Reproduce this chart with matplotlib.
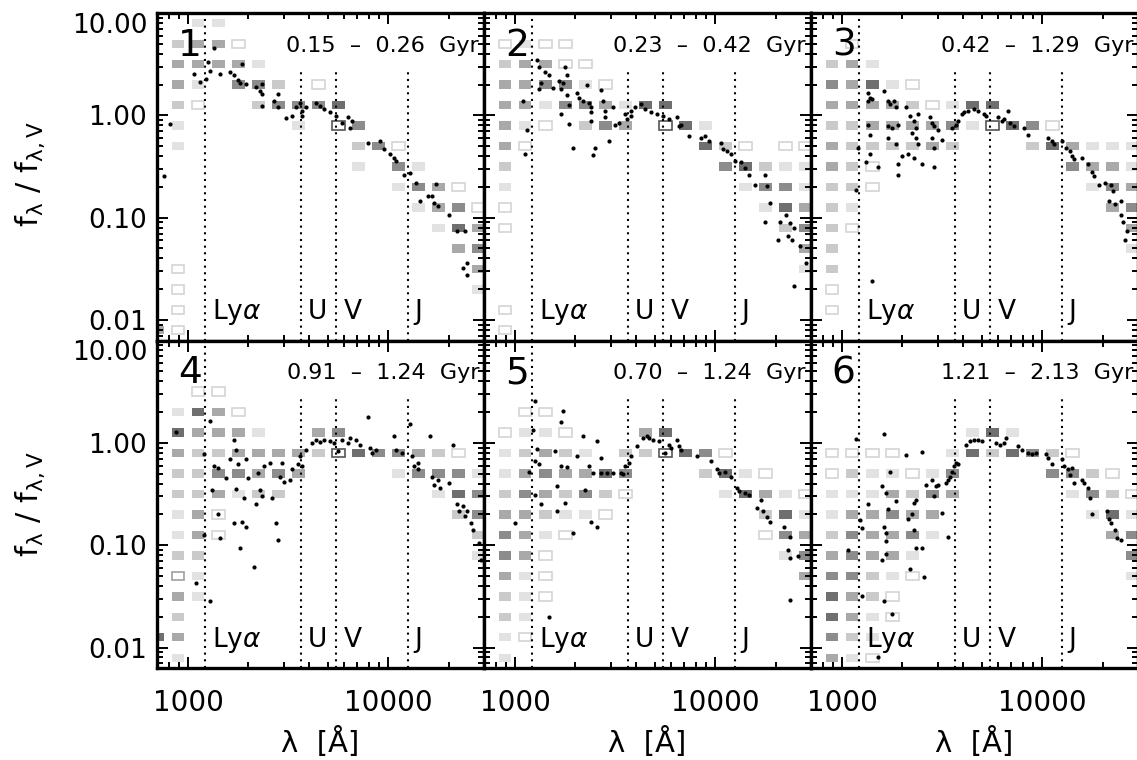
import matplotlib
matplotlib.use('Agg')
import matplotlib.pyplot as plt
from matplotlib.patches import Rectangle
from matplotlib.ticker import FixedLocator, LogLocator, NullFormatter
import numpy as np

plt.rcParams['font.family'] = ['DejaVu Sans']

# age range of each panel
ages = ['0.15  –  0.26  Gyr', '0.23  –  0.42  Gyr', '0.42  –  1.29  Gyr',
        '0.91  –  1.24  Gyr', '0.70  –  1.24  Gyr', '1.21  –  2.13  Gyr']

band_names = ['Ly$\\alpha$', 'U', 'V', 'J']
band_lam = [1216, 3650, 5500, 12500]

# bin centres (log10 lambda, log10 f) of the density grid
bin_loglam = [2.85, 2.95, 3.05, 3.15, 3.25, 3.35, 3.45, 3.55, 3.65,
              3.75, 3.85, 3.95, 4.05, 4.15, 4.25, 4.35, 4.45]
bin_logf = [0.9, 0.7, 0.5, 0.3, 0.1, -0.1, -0.3, -0.5,
            -0.7, -0.9, -1.1, -1.3, -1.5, -1.7, -1.9, -2.1]

# density grid: '.' empty, 'o' open, 'O' open grey, 'v' reference bin, 1-5 shade
grid1 = ["..11.............",
         ".233o............",
         ".33331...........",
         ".31.442.o........",
         ".2o..24445.......",
         ".1.....1.v4......",
         ".1........24o....",
         "..........1.41...",
         "............143o.",
         ".............134o",
         "..............153",
         "...............34",
         ".o..............3",
         ".o..............1",
         ".o...............",
         "3o..............."]
grid2 = [".................",
         ".o1oo............",
         ".233oo...........",
         ".33441o..........",
         ".331443155.......",
         ".31o.243.v51.....",
         ".3o........52o.oo",
         ".2..........45211",
         ".1...........1441",
         ".o............153",
         ".o.............24",
         "................3",
         "................1",
         ".................",
         ".o...............",
         ".o..............."]
grid3 = [".................",
         "..o..............",
         ".231.............",
         ".4351o...........",
         ".33332o155.......",
         ".22333341v54o....",
         ".3222232...253111",
         ".32o.........4331",
         ".22o..........143",
         ".21............34",
         ".2o.............3",
         ".2..............1",
         ".2...............",
         ".o...............",
         ".o...............",
         "................."]
grid4 = [".................",
         ".................",
         "..oo.............",
         ".153o............",
         ".53331..34.......",
         ".32233332v54432o.",
         ".2244343....14441",
         ".223122.......154",
         ".13o...........24",
         ".13o............2",
         ".22.............1",
         ".O1..............",
         ".31..............",
         ".2...............",
         "53...............",
         ".1..............."]
grid5 = [".................",
         ".................",
         ".................",
         "..oo.............",
         ".o11o...35.......",
         ".12321.22v54o....",
         ".1343354...251o..",
         ".243242o....1531o",
         ".33211o.......251",
         ".431o.........o43",
         ".43o...........14",
         ".31o............3",
         ".21o.............",
         ".21..............",
         ".1o..............",
         ".1..............."]
grid6 = [".................",
         ".................",
         ".................",
         ".................",
         "........151......",
         ".oooo..152542o...",
         ".o211o14....442o.",
         ".1113243.....142o",
         ".133433.......151",
         ".243341........34",
         ".34331..........4",
         ".4421o..........1",
         ".532o............",
         ".531o............",
         ".421.............",
         ".31o............."]

# individual objects (log10 lambda, log10 f/fV)
dots1 = [(2.91, -0.08), (2.88, -0.59), (3.03, 0.40), (3.06, 0.33), (3.09, 0.36),
         (3.10, 0.52), (3.11, 0.43), (3.13, 0.66), (3.16, 0.40), (3.21, 0.42),
         (3.23, 0.39), (3.25, 0.35), (3.26, 0.32), (3.27, 0.50), (3.29, 0.31),
         (3.34, 0.28), (3.36, 0.24), (3.37, 0.21), (3.37, 0.31), (3.45, 0.21),
         (3.37, 0.09), (3.43, 0.14), (3.45, 0.08), (3.49, -0.03), (3.52, -0.01),
         (3.54, 0.08), (3.56, 0.12), (3.57, 0.04), (3.57, -0.01), (3.59, 0.08),
         (3.64, 0.12), (3.66, 0.09), (3.68, 0.06), (3.71, 0.03), (3.74, -0.01),
         (3.77, -0.07), (3.80, -0.02), (3.81, -0.12), (3.82, -0.06), (3.90, -0.27),
         (3.96, -0.25), (3.98, -0.33), (4.01, -0.38), (4.03, -0.42), (4.04, -0.45),
         (4.08, -0.58), (4.11, -0.56), (4.14, -0.66), (4.16, -0.84), (4.20, -0.79),
         (4.22, -0.79), (4.24, -0.67), (4.23, -0.86), (4.25, -0.89), (4.30, -0.97),
         (4.34, -1.13), (4.38, -1.13), (4.37, -1.49), (4.39, -1.44), (4.39, -1.56)]
dots2 = [(3.04, 0.14), (3.06, -0.14), (3.05, -0.38), (3.11, 0.54), (3.12, 0.47),
         (3.13, 0.32), (3.12, 0.26), (3.15, 0.42), (3.17, 0.39), (3.19, 0.27),
         (3.22, 0.34), (3.23, 0.26), (3.24, 0.32), (3.26, 0.39), (3.25, 0.47),
         (3.26, 0.20), (3.23, 0.01), (3.27, 0.10), (3.27, -0.08), (3.29, -0.32),
         (3.31, 0.22), (3.32, 0.17), (3.34, 0.14), (3.36, 0.30), (3.37, 0.12),
         (3.38, 0.08), (3.38, 0.03), (3.38, -0.06), (3.40, -0.32), (3.39, -0.39),
         (3.43, 0.25), (3.44, 0.14), (3.45, 0.04), (3.45, -0.02), (3.47, -0.25),
         (3.49, 0.08), (3.50, -0.09), (3.52, -0.07), (3.55, 0.01), (3.56, -0.04),
         (3.58, 0.04), (3.58, -0.01), (3.60, 0.08), (3.63, 0.11), (3.65, 0.06),
         (3.68, 0.03), (3.71, 0.01), (3.74, -0.01), (3.77, -0.04), (3.81, -0.02),
         (3.82, -0.10), (3.83, -0.09), (3.87, -0.20), (3.93, -0.22), (3.95, -0.20),
         (3.97, -0.25), (4.03, -0.27), (4.04, -0.33), (4.06, -0.35), (4.08, -0.38),
         (4.10, -0.45), (4.13, -0.46), (4.15, -0.51), (4.17, -0.58), (4.20, -0.68),
         (4.25, -0.58), (4.26, -0.69), (4.27, -0.86), (4.25, -1.04), (4.31, -1.22),
         (4.32, -1.04), (4.35, -0.97), (4.37, -1.05), (4.39, -1.10), (4.36, -1.18),
         (4.38, -1.22), (4.42, -1.28), (4.45, -1.44), (4.39, -1.67)]
dots3 = [(3.08, -0.32), (3.07, -0.73), (3.13, 0.22), (3.13, 0.14), (3.14, 0.17),
         (3.15, 0.16), (3.13, -0.09), (3.14, -0.19), (3.12, -0.46), (3.14, -0.38),
         (3.18, -0.50), (3.15, -1.62), (3.21, 0.24), (3.23, 0.14), (3.24, 0.11),
         (3.26, 0.14), (3.27, 0.08), (3.23, -0.10), (3.25, -0.12), (3.28, -0.09),
         (3.23, -0.22), (3.27, -0.28), (3.28, -0.48), (3.28, -0.58), (3.30, -0.40),
         (3.32, 0.08), (3.34, -0.01), (3.36, -0.06), (3.37, -0.12), (3.35, -0.17),
         (3.37, -0.22), (3.38, -0.28), (3.33, -0.38), (3.36, -0.42), (3.40, -0.48),
         (3.38, 0.01), (3.44, -0.02), (3.45, -0.07), (3.46, -0.10), (3.48, -0.14),
         (3.45, -0.22), (3.46, -0.32), (3.46, -0.50), (3.50, -0.24), (3.55, -0.12),
         (3.57, -0.09), (3.58, -0.06), (3.60, 0.01), (3.61, 0.03), (3.63, 0.04),
         (3.66, 0.06), (3.68, 0.04), (3.71, 0.01), (3.72, -0.01), (3.78, -0.02),
         (3.80, -0.06), (3.81, -0.04), (3.83, 0.04), (3.84, -0.07), (3.86, -0.10),
         (3.91, -0.12), (3.93, -0.19), (4.03, -0.22), (4.05, -0.25), (4.06, -0.28),
         (4.10, -0.25), (4.12, -0.32), (4.14, -0.35), (4.15, -0.40), (4.16, -0.43),
         (4.20, -0.42), (4.23, -0.48), (4.25, -0.55), (4.26, -0.59), (4.28, -0.68),
         (4.31, -0.66), (4.34, -0.68), (4.35, -0.74), (4.33, -0.84), (4.36, -0.87),
         (4.39, -0.84), (4.39, -0.97), (4.40, -1.04), (4.42, -1.13), (4.41, -1.22)]
dots4 = [(2.94, 0.11), (3.04, -1.37), (3.08, -0.11), (3.08, -0.90), (3.11, 0.21),
         (3.11, -1.55), (3.13, -0.23), (3.15, -0.25), (3.12, -0.46), (3.15, -0.70),
         (3.16, -0.93), (3.19, -0.34), (3.21, -0.16), (3.23, -0.78), (3.23, 0.03),
         (3.24, -0.07), (3.25, -0.21), (3.26, -1.03), (3.24, -0.45), (3.27, -0.77),
         (3.28, -0.54), (3.29, -0.16), (3.29, -0.82), (3.30, -0.34), (3.33, -1.21),
         (3.34, -0.60), (3.35, -0.29), (3.36, -0.46), (3.37, -0.52), (3.38, -0.23),
         (3.41, -0.20), (3.42, -0.54), (3.44, -0.78), (3.45, -0.95), (3.46, -0.33),
         (3.47, -0.20), (3.48, -0.38), (3.51, -0.36), (3.52, -0.26), (3.55, -0.21),
         (3.56, -0.13), (3.57, -0.23), (3.59, -0.07), (3.62, 0.00), (3.64, 0.03),
         (3.66, 0.01), (3.68, 0.03), (3.71, 0.02), (3.73, 0.00), (3.75, -0.08),
         (3.77, 0.03), (3.80, 0.00), (3.81, 0.05), (3.84, 0.03), (3.86, -0.02),
         (3.90, 0.25), (3.91, -0.05), (3.92, -0.10), (3.94, -0.07), (4.03, 0.07),
         (4.04, -0.07), (4.07, -0.10), (4.11, 0.18), (4.12, -0.13), (4.13, -0.23),
         (4.15, -0.20), (4.15, -0.26), (4.21, 0.07), (4.22, -0.33), (4.23, -0.41),
         (4.25, -0.36), (4.26, -0.44), (4.30, -0.39), (4.32, -0.02), (4.34, -0.60),
         (4.35, -0.67), (4.37, -0.62), (4.38, -0.71), (4.39, -0.67), (4.41, -0.78),
         (4.42, -0.85), (4.45, -0.98), (4.46, -1.14)]
dots5 = [(3.00, -0.78), (3.07, -0.28), (3.09, 0.13), (3.10, -0.18), (3.10, 0.41),
         (3.10, -0.51), (3.12, -0.21), (3.11, -0.06), (3.13, -0.60), (3.17, -1.70),
         (3.20, -0.08), (3.21, -0.42), (3.21, -0.67), (3.23, 0.20), (3.24, 0.31),
         (3.23, -0.23), (3.25, -0.59), (3.26, -0.24), (3.29, -0.88), (3.31, -0.13),
         (3.34, 0.07), (3.35, -0.46), (3.37, -0.23), (3.38, -0.77), (3.39, -0.29),
         (3.41, -0.82), (3.41, 0.02), (3.43, -0.15), (3.43, -0.29), (3.46, -0.29),
         (3.49, -0.29), (3.53, -0.29), (3.54, -0.30), (3.55, -0.23), (3.57, -0.20),
         (3.58, -0.13), (3.61, -0.03), (3.64, 0.05), (3.66, 0.07), (3.67, 0.05),
         (3.69, 0.03), (3.72, 0.02), (3.75, -0.10), (3.77, -0.02), (3.78, -0.05),
         (3.81, 0.03), (3.82, -0.03), (3.83, -0.07), (3.91, -0.13), (3.98, -0.18),
         (4.01, -0.26), (4.02, -0.29), (4.05, -0.28), (4.08, -0.33), (4.11, -0.44),
         (4.12, -0.47), (4.15, -0.49), (4.17, -0.51), (4.21, -0.64), (4.23, -0.56),
         (4.24, -0.67), (4.26, -0.72), (4.27, -0.77), (4.34, -0.82), (4.37, -0.92),
         (4.36, -1.05), (4.37, -1.13), (4.41, -1.11), (4.37, -1.54)]
dots6 = [(3.07, 0.04), (3.03, -1.05), (3.09, -0.75), (3.10, -0.83), (3.10, -1.50),
         (3.13, -0.60), (3.18, -2.09), (3.21, 0.09), (3.20, -0.42), (3.21, -0.82),
         (3.22, -0.88), (3.20, -1.14), (3.22, -0.49), (3.22, -0.96), (3.22, -1.09),
         (3.21, -1.55), (3.23, -0.65), (3.24, -0.28), (3.25, -1.67), (3.27, -0.57),
         (3.32, -0.12), (3.33, -0.74), (3.34, -1.23), (3.35, -0.70), (3.36, -0.59),
         (3.36, -0.85), (3.37, -0.56), (3.37, -1.03), (3.40, -0.09), (3.40, -1.03),
         (3.41, -1.31), (3.42, -0.41), (3.45, -0.36), (3.46, -0.52), (3.47, -0.42),
         (3.48, -0.41), (3.50, -0.69), (3.52, -0.39), (3.53, -0.36), (3.54, -0.33),
         (3.53, -0.92), (3.55, -0.28), (3.56, -0.23), (3.57, -0.20), (3.58, -0.21),
         (3.62, -0.02), (3.64, 0.02), (3.66, 0.03), (3.68, 0.03), (3.70, 0.02),
         (3.77, 0.00), (3.79, -0.02), (3.81, 0.00), (3.82, 0.05), (3.88, -0.03),
         (3.90, -0.07), (3.93, -0.10), (3.95, -0.11), (3.97, -0.10), (4.02, -0.11),
         (4.03, -0.15), (4.05, -0.21), (4.10, -0.16), (4.11, -0.23), (4.13, -0.26),
         (4.14, -0.31), (4.15, -0.25), (4.16, -0.39), (4.20, -0.36), (4.21, -0.39),
         (4.23, -0.44), (4.24, -0.54), (4.25, -0.70), (4.32, -0.67), (4.33, -0.74),
         (4.34, -0.78), (4.36, -0.85), (4.37, -0.93), (4.39, -0.95)]

grids = [grid1, grid2, grid3, grid4, grid5, grid6]
dots = [dots1, dots2, dots3, dots4, dots5, dots6]

shades = {'1': '#e2e2e2', '2': '#cacaca', '3': '#a9a9a9', '4': '#8c8c8c', '5': '#6f6f6f'}
edges = {'o': '#d4d4d4', 'O': '#a0a0a0', 'v': '#555555'}
hw, hh = 0.032, 0.041

W, H = 1137, 760
fig = plt.figure(figsize=(W / 100, H / 100), dpi=100)
xpix = [157, 484, 811]
ypix = [(13, 340.5), (340.5, 668)]
pw = 327

for i in range(6):
    r, c = divmod(i, 3)
    y0, y1 = ypix[r]
    ax = fig.add_axes([xpix[c] / W, 1 - y1 / H, pw / W, (y1 - y0) / H])
    ax.set_xscale('log')
    ax.set_yscale('log')
    ax.set_xlim(700, 30000)
    ax.set_ylim(10 ** -2.2, 10)

    for j, row in enumerate(grids[i]):
        for k, ch in enumerate(row):
            if ch == '.':
                continue
            lx, ly = bin_loglam[k], bin_logf[j]
            x0, x1 = 10 ** (lx - hw), 10 ** (lx + hw)
            yy0, yy1 = 10 ** (ly - hh), 10 ** (ly + hh)
            if ch in shades:
                ax.add_patch(Rectangle((x0, yy0), x1 - x0, yy1 - yy0,
                                       facecolor=shades[ch], edgecolor='none', zorder=1))
            else:
                ax.add_patch(Rectangle((x0, yy0), x1 - x0, yy1 - yy0, facecolor='white',
                                       edgecolor=edges[ch], lw=1.2, zorder=1))

    d = np.array(dots[i])
    ax.plot(10 ** d[:, 0], 10 ** d[:, 1], 'o', color='k', ms=3.0, mew=0, ls='none', zorder=4)

    for name, lam in zip(band_names, band_lam):
        top = 1.0 if lam == 1216 else 0.828
        ax.axvline(lam, ymax=top, color='k', ls=(0, (1, 2.2)), lw=1.5, zorder=3)
        ax.annotate(name, xy=(lam, 0.0102), xytext=(5, 0), textcoords='offset points',
                    ha='left', va='baseline', fontsize=19, zorder=5)

    ax.text(0.10, 0.955, str(i + 1), transform=ax.transAxes, ha='center', va='top',
            fontsize=27, zorder=6)
    ax.text(0.985, 0.90, ages[i], transform=ax.transAxes, ha='right', va='center',
            fontsize=16, zorder=6)

    ax.xaxis.set_major_locator(FixedLocator([1000, 10000]))
    ax.xaxis.set_minor_locator(LogLocator(base=10, subs=np.arange(2, 10), numticks=20))
    ax.yaxis.set_major_locator(FixedLocator([0.01, 0.1, 1, 10]))
    ax.yaxis.set_minor_locator(LogLocator(base=10, subs=np.arange(2, 10), numticks=20))
    ax.xaxis.set_minor_formatter(NullFormatter())
    ax.yaxis.set_minor_formatter(NullFormatter())
    ax.tick_params(which='both', direction='in', top=True, right=True, width=1.4)
    ax.tick_params(which='major', length=8)
    ax.tick_params(which='minor', length=4)
    for s in ax.spines.values():
        s.set_linewidth(2.4)

    if r == 1:
        ax.set_xticklabels(['1000', '10000'], fontsize=20)
        ax.tick_params(axis='x', pad=15)
    else:
        ax.tick_params(axis='x', labelbottom=False)
    if c == 0:
        ax.set_yticklabels(['0.01', '0.10', '1.00', '10.00'], fontsize=19)
        ax.tick_params(axis='y', pad=7)
        ax.get_yticklabels()[-1].set_verticalalignment('top')
    else:
        ax.tick_params(axis='y', labelleft=False)

for yc in [1 - 174 / H, 1 - 504 / H]:
    fig.text(0.027, yc, r'$\mathregular{f_{λ}\ /\ f_{λ,V}}$', rotation=90,
             fontsize=22, ha='center', va='center')
for c in range(3):
    fig.text((xpix[c] + pw / 2) / W, 1 - 742 / H, 'λ  [Å]', fontsize=21,
             ha='center', va='center')

fig.savefig('out.png', dpi=100)
